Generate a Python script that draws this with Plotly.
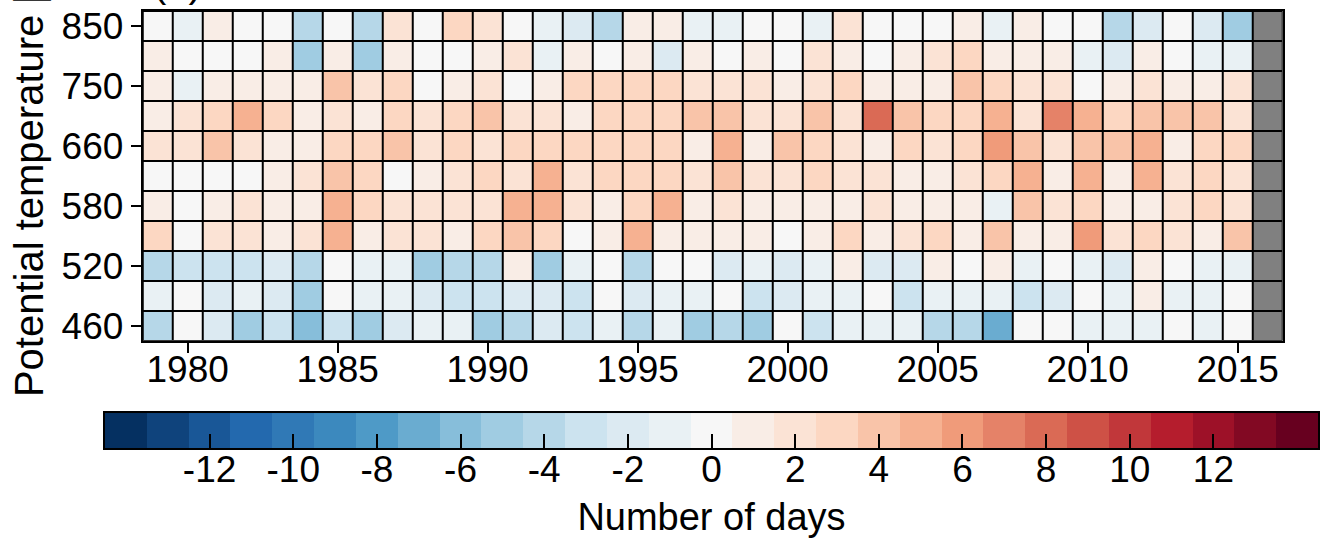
import plotly.graph_objects as go

years = list(range(1979, 2017))          # 1979 .. 2016
levels = ["460", "490", "520", "550", "580", "620", "660", "700", "750", "800", "850"]
level_ticks = ["460", "520", "580", "660", "750", "850"]
xticks = [1980, 1985, 1990, 1995, 2000, 2005, 2010, 2015]
cb_bins = list(range(-14, 15))           # colour bins of the colour bar
cb_ticks = [-12, -10, -8, -6, -4, -2, 0, 2, 4, 6, 8, 10, 12]
cb_ticktext = ["-12", "-10", "-8", "-6", "-4", "-2", "0", "2", "4", "6", "8", "10", "12"]

# anomaly in number of days, 1979..2015, per potential temperature level
row_460 = [-4, 0, -2, -5, -3, -6, -3, -5, -2, -1, -1, -5, -4, -2, -3, -1, -4, -1, -5,
           -4, -5, 0, -3, -1, -1, -1, -4, -4, -7, 0, 0, -1, -1, -1, 0, -1, 0]
row_490 = [-1, 0, -2, -1, -2, -5, 0, -1, -1, -2, -3, -3, -2, -2, -3, 0, -2, -1, -1,
           0, -3, -2, -1, -1, 0, -3, -1, -1, -1, -3, -2, 0, -1, 1, -1, -1, 0]
row_520 = [-4, -3, -3, -3, -2, -4, 0, -1, -1, -5, -4, -4, 1, -5, -1, 0, -4, 0, 0,
           -2, -1, -2, -1, 1, -2, -2, 1, 0, 1, -1, 0, -1, -2, 1, 0, -1, -1]
row_550 = [3, 0, 2, 2, 1, 2, 5, 1, 2, 2, 1, 3, 4, 3, 0, 1, 5, 1, 1,
           1, 1, 0, 1, 3, 1, 2, 3, 1, 4, 1, 1, 6, 2, 3, 2, 1, 4]
row_580 = [1, 0, 1, 2, 1, 1, 5, 3, 2, 2, 2, 2, 5, 5, 2, 1, 3, 5, 1,
           2, 1, 1, 1, 1, 2, 1, 1, 1, -1, 4, 2, 3, 1, 1, 2, 3, 2]
row_620 = [0, 0, 0, 0, 1, 2, 4, 3, 0, 1, 2, 3, 2, 5, 2, 3, 3, 3, 2,
           4, 2, 2, 3, 2, 2, 1, 1, 2, 3, 5, 1, 5, 1, 5, 2, 3, 2]
row_660 = [2, 2, 4, 2, 1, 1, 3, 3, 4, 2, 3, 2, 3, 3, 3, 3, 3, 3, 1,
           5, 1, 4, 3, 2, 1, 3, 2, 3, 6, 4, 2, 4, 4, 5, 1, 3, 3]
row_700 = [1, 2, 3, 5, 3, 1, 2, 1, 3, 2, 3, 4, 2, 2, 1, 3, 3, 3, 4,
           4, 2, 2, 4, 2, 8, 4, 3, 3, 5, 2, 7, 5, 3, 4, 4, 4, 2]
row_750 = [1, -1, 1, 1, 1, 1, 4, 2, 3, 0, 1, 2, 0, 1, 3, 3, 3, 3, 2,
           2, 2, 1, 2, 3, 1, 1, 1, 4, 3, 2, 2, 0, 1, 2, 1, 1, 2]
row_800 = [1, 0, 0, 0, 1, -5, 1, -5, 1, 0, 0, 1, 2, -1, 1, 0, 1, -2, 1,
           0, 1, 0, 2, 1, 0, 1, 2, 3, 1, 1, 1, -1, -2, 1, 0, -1, -1]
row_850 = [0, -1, 1, 0, 0, -4, 0, -4, 2, 0, 3, 2, 0, -1, -2, -4, 1, 1, -1,
           -1, 0, 0, -1, 2, 0, 0, 0, 1, -1, 1, 0, 0, -4, -2, 0, -2, -5]

rows = [row_460, row_490, row_520, row_550, row_580, row_620,
        row_660, row_700, row_750, row_800, row_850]
Z = [r + [None] for r in rows]          # 2016 has no value (grey)
Z_missing = [[None] * (len(years) - 1) + [1] for _ in rows]

# discrete RdBu_r colour scale (29 bins centred on integers -14..14)
anchors = ["#053061", "#2166ac", "#4393c3", "#92c5de", "#d1e5f0", "#f7f7f7",
           "#fddbc7", "#f4a582", "#d6604d", "#b2182b", "#67001f"]


def hex2rgb(h):
    return tuple(int(h[i:i + 2], 16) for i in (1, 3, 5))


def cmap(f):
    pos = f * (len(anchors) - 1)
    i = min(int(pos), len(anchors) - 2)
    t = pos - i
    a, b = hex2rgb(anchors[i]), hex2rgb(anchors[i + 1])
    c = [round(a[k] + (b[k] - a[k]) * t) for k in range(3)]
    return "rgb(%d,%d,%d)" % tuple(c)


nb = len(cb_bins)
colorscale = []
for i in range(nb):
    c = cmap(i / (nb - 1))
    colorscale.append([i / nb, c])
    colorscale.append([(i + 1) / nb, c])

FONT = "Liberation Sans, Arial, sans-serif"

# page geometry (px)
W, H = 1324, 540
L, R, T, B = 105, 1318, 10.7, 448          # paper area spans main plot + colour bar
PW, PH = R - L, B - T
main_x = [(142.7 - L) / PW, (1282.7 - L) / PW]
main_y = [(B - 340.7) / PH, 1.0]
cb_y = [0.0, (B - 413) / PH]

fig = go.Figure()
fig.add_trace(go.Heatmap(
    z=Z, x=years, y=levels, colorscale=colorscale, zmin=-14.5, zmax=14.5,
    xgap=2, ygap=2, hoverongaps=False, showscale=False,
    xaxis="x", yaxis="y",
))
fig.add_trace(go.Heatmap(
    z=Z_missing, x=years, y=levels,
    colorscale=[[0, "#808080"], [1, "#808080"]], showscale=False,
    xgap=2, ygap=2, hoverongaps=False, xaxis="x", yaxis="y",
))
# colour bar drawn as its own axes (like matplotlib)
fig.add_trace(go.Heatmap(
    z=[cb_bins], x=cb_bins, y=[0], colorscale=colorscale,
    zmin=-14.5, zmax=14.5, showscale=False, xaxis="x2", yaxis="y2",
))

axis_common = dict(tickcolor="black", tickwidth=2, showline=True,
                   linecolor="black", mirror=True, showgrid=False,
                   zeroline=False, automargin=False)

fig.update_layout(
    width=W, height=H,
    margin=dict(l=L, r=W - R, t=T, b=H - B, autoexpand=False),
    plot_bgcolor="black", paper_bgcolor="white",
    font=dict(family=FONT, color="black"),
    xaxis=dict(domain=main_x, anchor="y", range=[1978.5, 2016.5],
               tickmode="array", tickvals=xticks, ticks="outside", ticklen=10,
               tickfont=dict(size=37), linewidth=2, ticklabelstandoff=-15,
               **axis_common),
    yaxis=dict(domain=main_y, anchor="x", type="category", tickmode="array",
               tickvals=level_ticks, ticks="outside", ticklen=10,
               tickfont=dict(size=37), linewidth=2,
               title=dict(text="Potential temperature [K]",
                          font=dict(size=40), standoff=6),
               **axis_common),
    xaxis2=dict(domain=[0, 1], anchor="y2", range=[-14.5, 14.5],
                tickmode="array", tickvals=cb_ticks, ticktext=cb_ticktext,
                ticks="inside", ticklen=14, tickfont=dict(size=37),
                linewidth=1.5, ticklabelstandoff=-12,
                title=dict(text="Number of days", font=dict(size=38),
                           standoff=14),
                **axis_common),
    yaxis2=dict(domain=cb_y, anchor="x2", range=[-0.5, 0.5],
                showticklabels=False, ticks="", linewidth=1.5,
                **axis_common),
    annotations=[dict(text="(a)", xref="paper", yref="paper",
                      x=(177 - L) / PW, y=1 + (T - 7) / PH,
                      xanchor="center", yanchor="bottom",
                      showarrow=False, font=dict(size=40, color="black"))],
)

fig.write_html("out.html", config={"displayModeBar": False},
               post_script="document.body.style.margin='0';")
